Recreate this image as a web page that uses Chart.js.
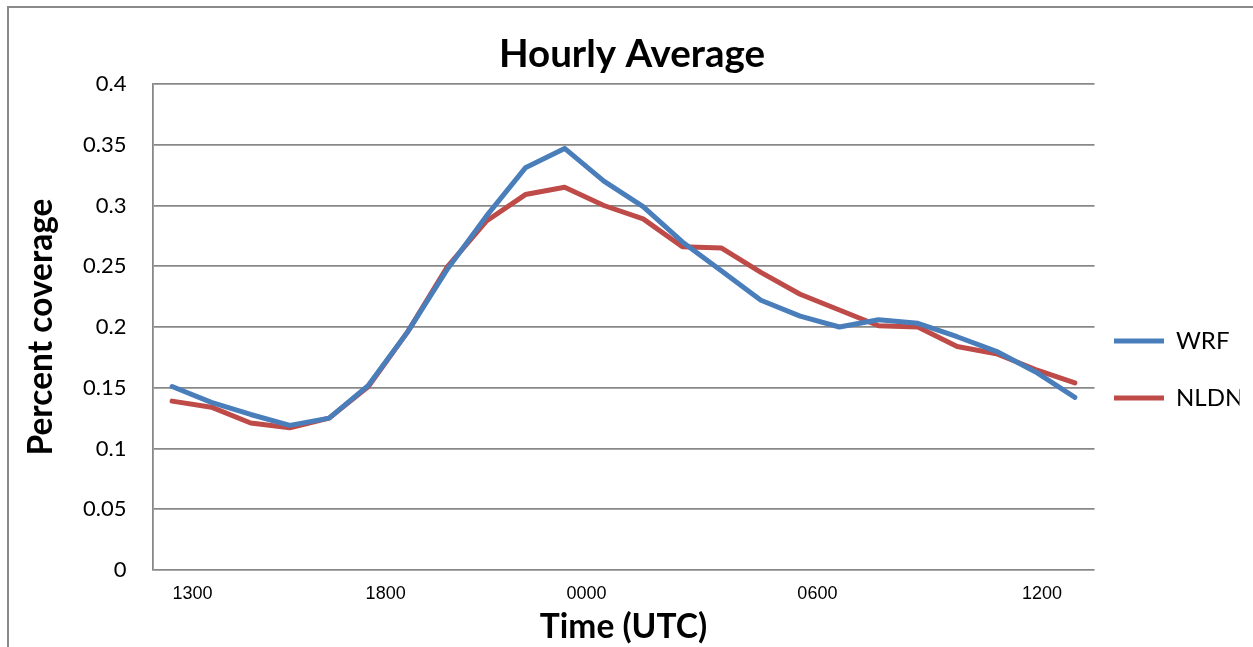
<!DOCTYPE html>
<html lang="en">
<head>
  <meta charset="UTF-8" />
  <title>Hourly Average</title>
  <script src="https://cdn.jsdelivr.net/npm/chart.js"></script>
  <style>
    body {
      margin: 0;
      background: white;
    }
    #frame {
      position: absolute;
      left: 7px;
      top: 6px;
      width: 1246px;
      height: 641px;
      border-top: 2px solid #8a8a8a;
      border-left: 2px solid #8a8a8a;
    }
    #chart {
      position: absolute;
      left: 0;
      top: 0;
    }
  </style>
</head>
<body>
  <div id="frame"></div>
  <canvas id="chart" width="1253" height="647"></canvas>

  <script>
    // hours 1300 UTC through 1200 UTC next day
    const hours = ['1300', '1400', '1500', '1600', '1700', '1800', '1900', '2000', '2100', '2200', '2300', '0000',
                   '0100', '0200', '0300', '0400', '0500', '0600', '0700', '0800', '0900', '1000', '1100', '1200'];

    const wrf = [0.151, 0.138, 0.128, 0.119, 0.125, 0.152, 0.196, 0.247, 0.291, 0.331, 0.347, 0.320,
                 0.299, 0.270, 0.246, 0.222, 0.209, 0.200, 0.206, 0.203, 0.192, 0.180, 0.163, 0.142];

    const nldn = [0.139, 0.134, 0.121, 0.117, 0.125, 0.151, 0.196, 0.249, 0.287, 0.309, 0.315, 0.300,
                  0.289, 0.266, 0.265, 0.245, 0.227, 0.214, 0.201, 0.200, 0.184, 0.178, 0.165, 0.154];

    // the few time labels printed under the axis, and where they sit (in hour slots)
    const tickLabels = ['1300', '1800', '0000', '0600', '1200'];
    const tickSlots = [0.52, 5.44, 10.56, 16.44, 22.16];

    const gridColor = '#888888';
    Chart.defaults.font.family = 'Lato';
    Chart.defaults.color = '#000';

    // nudge the legend down/left so it sits like the original
    const legendShift = {
      id: 'legendShift',
      afterLayout(chart) {
        const lg = chart.legend;
        lg.top += 41.5;
        lg.bottom += 41.5;
        lg.left -= 13.5;
        lg.right -= 13.5;
      }
    };

    const toPoints = arr => arr.map((v, i) => ({ x: i, y: v }));

    new Chart(document.getElementById('chart'), {
      type: 'line',
      data: {
        labels: hours,
        datasets: [
          {
            label: 'WRF',
            data: toPoints(wrf),
            borderColor: '#4a7ebb',
            backgroundColor: '#4a7ebb',
            borderWidth: 5,
            borderCapStyle: 'round',
            borderJoinStyle: 'round',
            pointRadius: 0,
            tension: 0
          },
          {
            label: 'NLDN',
            data: toPoints(nldn),
            borderColor: '#be4b48',
            backgroundColor: '#be4b48',
            borderWidth: 5,
            borderCapStyle: 'round',
            borderJoinStyle: 'round',
            pointRadius: 0,
            tension: 0
          }
        ]
      },
      options: {
        responsive: false,
        animation: false,
        layout: { padding: { left: 11, right: 0, top: 9, bottom: 0 } },
        plugins: {
          title: {
            display: true,
            text: 'Hourly Average',
            font: { size: 38.5, weight: 'bold' },
            padding: { top: 22, bottom: 6.8 }
          },
          legend: {
            position: 'right',
            maxWidth: 158.5,
            labels: {
              usePointStyle: true,
              pointStyle: 'line',
              pointStyleWidth: 50,
              padding: 33,
              font: { size: 24 }
            }
          },
          tooltip: { enabled: false }
        },
        scales: {
          x: {
            type: 'linear',
            min: -0.5,
            max: 23.5,
            grid: { display: false, drawTicks: false },
            border: { display: false },
            afterBuildTicks: axis => {
              axis.ticks = tickSlots.map(v => ({ value: v }));
            },
            afterFit: axis => { axis.height = 77; },
            ticks: {
              autoSkip: false,
              maxRotation: 0,
              padding: 13,
              font: { family: 'Liberation Sans', size: 18 },
              callback: (v, i) => tickLabels[i]
            },
            title: {
              display: true,
              text: 'Time (UTC)',
              font: { size: 33.5, weight: 'bold' },
              padding: { top: 0, bottom: 0 }
            }
          },
          y: {
            min: 0,
            max: 0.4,
            grid: { color: gridColor, lineWidth: 1.8, drawTicks: false },
            border: { display: true, color: gridColor, width: 1.8 },
            afterFit: axis => { axis.width = 141.5; },
            ticks: {
              stepSize: 0.05,
              padding: 26,
              font: { size: 22 },
              callback: v => +v.toFixed(2)
            },
            title: {
              display: true,
              text: 'Percent coverage',
              font: { size: 33.5, weight: 'bold' },
              padding: { top: 10, bottom: 0 }
            }
          }
        }
      },
      plugins: [legendShift]
    });
  </script>
</body>
</html>
